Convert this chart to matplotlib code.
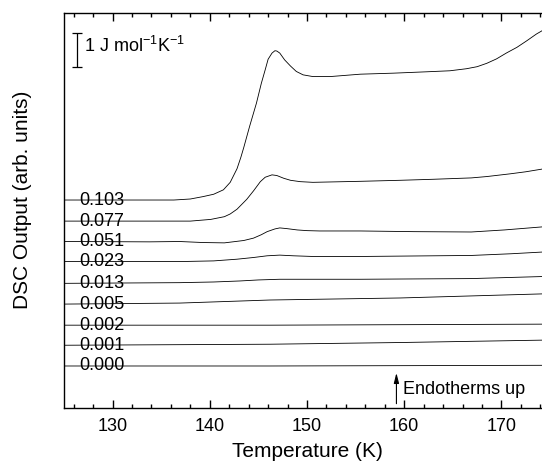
import matplotlib
matplotlib.use('Agg')
import matplotlib.pyplot as plt
from matplotlib.ticker import MultipleLocator

plt.rcParams['font.family'] = ['Liberation Sans', 'DejaVu Sans']
plt.rcParams['mathtext.default'] = 'regular'

# DSC traces, y in J mol^-1 K^-1 (stacked as drawn), T in K
labels = ['0.103', '0.077', '0.051', '0.023', '0.013', '0.005', '0.002', '0.001', '0.000']

t_103 = [125.0, 133.8, 136.3, 138.0, 139.3, 140.4, 141.4, 142.1, 142.8, 143.2, 143.5,
         144.1, 144.8, 145.3, 145.7, 146.0, 146.4, 146.7, 146.9, 147.2, 147.7, 148.3,
         148.9, 149.6, 150.6, 152.4, 155.5, 158.9, 162.3, 164.7, 166.4, 167.5, 168.5,
         169.5, 170.5, 171.6, 172.6, 173.6, 174.2, 175.0]
y_103 = [4.88, 4.88, 4.88, 4.91, 4.98, 5.05, 5.18, 5.40, 5.80, 6.14, 6.43,
         7.05, 7.73, 8.31, 8.71, 9.02, 9.20, 9.27, 9.26, 9.20, 9.00, 8.82,
         8.66, 8.56, 8.51, 8.51, 8.58, 8.61, 8.65, 8.68, 8.74, 8.80, 8.90,
         9.03, 9.20, 9.37, 9.56, 9.76, 9.86, 10.0]

t_077 = [125.0, 133.8, 136.9, 138.0, 140.1, 141.5, 142.1, 142.8, 143.8, 144.5, 145.2,
         145.7, 146.4, 146.9, 147.6, 148.3, 149.3, 150.6, 155.5, 159.6, 163.0, 166.9,
         168.5, 170.9, 172.5, 174.2, 175.0]
y_077 = [4.26, 4.26, 4.26, 4.26, 4.31, 4.39, 4.47, 4.61, 4.90, 5.15, 5.42,
         5.55, 5.62, 5.60, 5.52, 5.46, 5.42, 5.40, 5.43, 5.46, 5.49, 5.53,
         5.57, 5.65, 5.71, 5.79, 5.84]

t_051 = [125.0, 133.8, 136.9, 139.3, 141.5, 143.5, 144.5, 145.3, 145.9, 146.7,
         147.2, 147.9, 149.0, 150.0, 151.3, 155.5, 161.0, 166.9, 170.3, 174.2, 175.0]
y_051 = [3.66, 3.65, 3.66, 3.63, 3.62, 3.69, 3.76, 3.86, 3.95, 4.03,
         4.06, 4.04, 4.00, 3.98, 3.97, 3.97, 3.95, 3.94, 4.00, 4.09, 4.10]

t_023 = [125.0, 136.9, 140.4, 142.8, 144.5, 145.9, 147.2, 148.6, 150.6, 155.5, 166.9,
         171.0, 174.2, 175.0]
y_023 = [3.07, 3.07, 3.09, 3.14, 3.19, 3.24, 3.26, 3.24, 3.22, 3.22, 3.25,
         3.30, 3.35, 3.37]

t_013 = [125.0, 136.9, 140.4, 143.1, 145.0, 147.2, 155.5, 166.9, 174.2, 175.0]
y_013 = [2.43, 2.45, 2.47, 2.50, 2.53, 2.55, 2.55, 2.57, 2.63, 2.64]

t_005 = [125.0, 136.9, 146.2, 159.6, 174.2, 175.0]
y_005 = [1.82, 1.85, 1.94, 2.00, 2.12, 2.13]

t_002 = [125.0, 146.2, 174.2, 175.0]
y_002 = [1.20, 1.20, 1.23, 1.23]

t_001 = [125.0, 146.2, 159.6, 174.2, 175.0]
y_001 = [0.61, 0.64, 0.69, 0.76, 0.76]

t_000 = [125.0, 146.2, 174.2, 175.0]
y_000 = [0.00, 0.00, 0.02, 0.03]

temps = [t_103, t_077, t_051, t_023, t_013, t_005, t_002, t_001, t_000]
values = [y_103, y_077, y_051, y_023, y_013, y_005, y_002, y_001, y_000]

fig = plt.figure(figsize=(5.42, 4.72), dpi=100)
ax = fig.add_axes([64/542, 1 - 408.3/472, 486/542, 395/472])

for t, y, lab in zip(temps, values, labels):
    ax.plot(t, y, color='k', lw=0.6)
    ax.text(126.57, y[0], lab, fontsize=13, ha='left', va='center')

# scale bar: 1 J mol-1 K-1
ax.errorbar([126.37], [9.30], yerr=0.5, color='k', lw=0.9, capsize=3.6, capthick=0.9)
ax.text(127.1, 9.42, r'1 J mol$^{-1}$K$^{-1}$', fontsize=13, ha='left', va='center')

ax.annotate('', xy=(159.2, -0.12), xytext=(159.2, -1.19),
            arrowprops=dict(arrowstyle='-|>,head_width=0.15,head_length=0.6',
                            color='k', lw=0.8, mutation_scale=10))
ax.text(159.85, -0.68, 'Endotherms up', fontsize=13, ha='left', va='center')

ax.set_xlim(125, 175)
ax.set_ylim(-1.244, 10.37)
ax.xaxis.set_major_locator(MultipleLocator(10))
ax.xaxis.set_minor_locator(MultipleLocator(2))
ax.tick_params(axis='x', which='both', direction='in', top=True, bottom=True,
               labelsize=13, pad=7, width=1)
ax.tick_params(axis='x', which='major', length=5.5)
ax.tick_params(axis='x', which='minor', length=3)
ax.set_yticks([])
for s in ax.spines.values():
    s.set_linewidth(1)

ax.set_xlabel('Temperature (K)', fontsize=15)
ax.set_ylabel('DSC Output (arb. units)', fontsize=15)
ax.xaxis.set_label_coords(0.5, -0.085)
ax.yaxis.set_label_coords(-0.066, 0.527)

fig.savefig('out.png', dpi=100)
